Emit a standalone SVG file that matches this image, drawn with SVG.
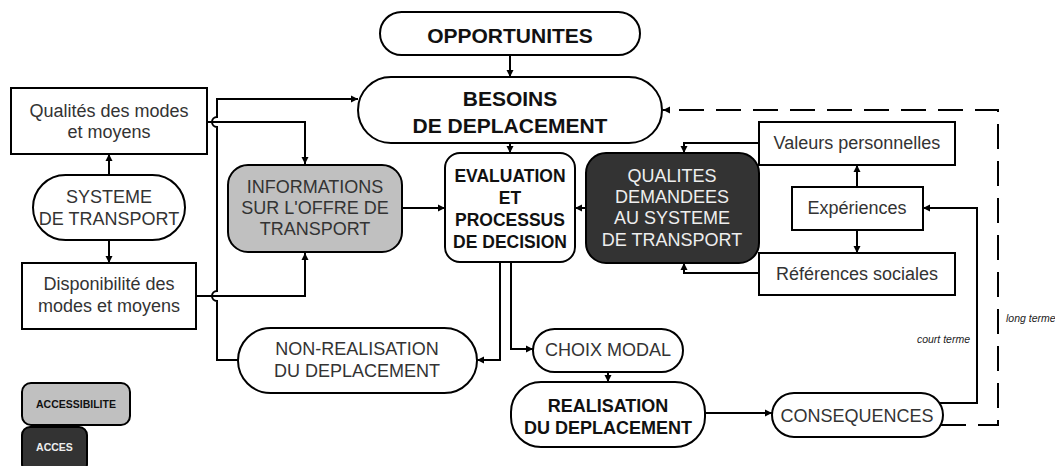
<svg xmlns="http://www.w3.org/2000/svg" width="1055" height="466" viewBox="0 0 1055 466">
<style>
.box{fill:#fff;stroke:#000;stroke-width:2}
.grey{fill:#c0c0c0;stroke:#000;stroke-width:2}
.dark{fill:#333;stroke:#000;stroke-width:2}
.t{font-family:"Liberation Sans",Arial,sans-serif;font-size:18px;fill:#333;text-anchor:middle}
.b{font-family:"Liberation Sans",Arial,sans-serif;font-weight:bold;fill:#111;text-anchor:middle}
.w{fill:#eee}
.line{fill:none;stroke:#000;stroke-width:2}
.arr{marker-end:url(#ah)}
.it{font-family:"Liberation Sans",Arial,sans-serif;font-style:italic;font-size:10.5px;fill:#222}
</style>
<defs>
<marker id="ah" markerUnits="userSpaceOnUse" markerWidth="8" markerHeight="8" refX="7" refY="4" orient="auto">
<path d="M0,0.5 L7,4 L0,7.5 z" fill="#000"/>
</marker>
</defs>
<rect width="1055" height="466" fill="#fff"/>
<g id="connectors">
<path class="line arr" d="M510,55 V77"/>
<path class="line arr" d="M510,143 V153"/>
<path class="line arr" d="M109,175 V154"/>
<path class="line arr" d="M109,240 V263"/>
<path class="line arr" d="M207,122 H305 V164"/>
<path class="line arr" d="M196,296 H305 V253"/>
<path class="line arr" d="M238,360 H217 V301 A5,5 0 0 1 217,291 V127 A5,5 0 0 1 217,117 V99 H358"/>
<path class="line arr" d="M402,208 H445"/>
<path class="line arr" d="M586,208 H575"/>
<path class="line arr" d="M759,143 H684 V153"/>
<path class="line arr" d="M759,273 H684 V263"/>
<path class="line arr" d="M857,187 V165"/>
<path class="line arr" d="M857,230 V253"/>
<path class="line arr" d="M500,262 V360 H477"/>
<path class="line arr" d="M511,262 V349 H533"/>
<path class="line arr" d="M608,372 V382"/>
<path class="line arr" d="M705,413 H772"/>
<path class="line arr" d="M939,403 H977 V208 H923"/>
<path class="line arr" d="M941,425 H998 V110 H663" stroke-width="2.5" stroke-dasharray="25,12"/>
</g>
<g id="opportunites"><rect class="box" x="380" y="12" width="260" height="43" rx="21.5"/><text class="b" x="510" y="43" font-size="21">OPPORTUNITES</text></g>
<g id="besoins"><rect class="box" x="358" y="77" width="304" height="66" rx="33"/><text class="b" x="510" y="106" font-size="21">BESOINS</text><text class="b" x="510" y="133" font-size="21">DE DEPLACEMENT</text></g>
<g id="qualites-modes"><rect class="box" x="11" y="88" width="196" height="66"/><text class="t" x="109" y="117">Qualités des modes</text><text class="t" x="109" y="138">et moyens</text></g>
<g id="systeme"><rect class="box" x="33" y="175" width="152" height="65" rx="32.5"/><text class="t" x="109" y="203">SYSTEME</text><text class="t" x="109" y="225">DE TRANSPORT</text></g>
<g id="disponibilite"><rect class="box" x="22" y="263" width="174" height="66"/><text class="t" x="109" y="290">Disponibilité des</text><text class="t" x="109" y="312">modes et moyens</text></g>
<g id="informations"><rect class="grey" x="228" y="165" width="174" height="87" rx="20"/><text class="t" x="315" y="193">INFORMATIONS</text><text class="t" x="315" y="214">SUR L'OFFRE DE</text><text class="t" x="315" y="235">TRANSPORT</text></g>
<g id="evaluation"><rect class="box" x="445" y="153" width="130" height="109" rx="15"/><text class="b" x="510" y="182" font-size="17.5">EVALUATION</text><text class="b" x="510" y="204" font-size="17.5">ET</text><text class="b" x="510" y="226" font-size="17.5">PROCESSUS</text><text class="b" x="510" y="248" font-size="17.5">DE DECISION</text></g>
<g id="qualites-demandees"><rect class="dark" x="586" y="153" width="173" height="110" rx="20"/><text class="t w" x="672" y="182">QUALITES</text><text class="t w" x="672" y="203">DEMANDEES</text><text class="t w" x="672" y="224">AU SYSTEME</text><text class="t w" x="672" y="246">DE TRANSPORT</text></g>
<g id="valeurs"><rect class="box" x="759" y="122" width="196" height="43"/><text class="t" x="857" y="149">Valeurs personnelles</text></g>
<g id="experiences"><rect class="box" x="792" y="187" width="131" height="43"/><text class="t" x="857" y="214">Expériences</text></g>
<g id="references"><rect class="box" x="759" y="253" width="196" height="42"/><text class="t" x="857" y="280">Références sociales</text></g>
<g id="non-realisation"><rect class="box" x="238" y="328" width="239" height="65" rx="32.5"/><text class="t" x="357" y="355">NON-REALISATION</text><text class="t" x="357" y="377">DU DEPLACEMENT</text></g>
<g id="choix-modal"><rect class="box" x="533" y="329" width="150" height="43" rx="21.5"/><text class="t" x="608" y="356">CHOIX MODAL</text></g>
<g id="realisation"><rect class="box" x="511" y="382" width="194" height="65" rx="30"/><text class="b" x="608" y="412" font-size="18">REALISATION</text><text class="b" x="608" y="434" font-size="18">DU DEPLACEMENT</text></g>
<g id="consequences"><rect class="box" x="772" y="393" width="171" height="44" rx="22"/><text class="t" x="857" y="422">CONSEQUENCES</text></g>
<g id="labels"><text class="it" x="970" y="343" text-anchor="end">court terme</text><text class="it" x="1006" y="322">long terme</text></g>
<g id="legend-accessibilite"><rect class="grey" x="22" y="383" width="108" height="42" rx="9"/><text class="b" x="76" y="408" font-size="10.5">ACCESSIBILITE</text></g>
<g id="legend-acces"><rect class="dark" x="22" y="427" width="65" height="45" rx="8"/><text class="b" x="54.5" y="451" font-size="10.5" style="fill:#eee">ACCES</text></g>
</svg>
